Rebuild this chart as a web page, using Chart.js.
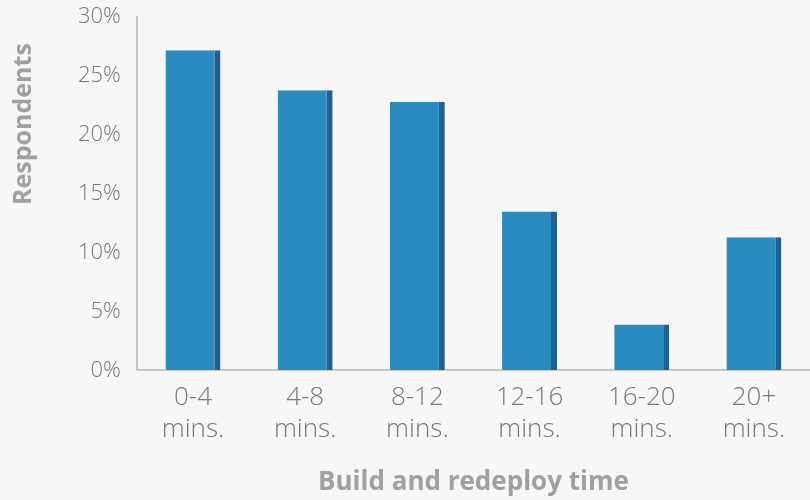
<!DOCTYPE html>
<html>
<head>
<meta charset="utf-8">
<script src="https://cdn.jsdelivr.net/npm/chart.js@4"></script>
<style>
  html, body { margin: 0; padding: 0; background: #f7f7f7; }
  #wrap { width: 810px; height: 500px; }
</style>
</head>
<body>
<div id="wrap"><canvas id="buildTime"></canvas></div>
<script>
const categories = [
  ["0-4", "mins."],
  ["4-8", "mins."],
  ["8-12", "mins."],
  ["12-16", "mins."],
  ["16-20", "mins."],
  ["20+", "mins."],
];
const respondents = [27.2, 23.8, 22.8, 13.5, 3.9, 11.3];
const yTicks = [0, 5, 10, 15, 20, 25, 30];

const ctx = document.getElementById("buildTime");

Chart.defaults.font.family = "Open Sans";

new Chart(ctx, {
  type: "bar",
  data: {
    labels: categories,
    datasets: [
      {
        label: "Respondents",
        data: respondents,
        backgroundColor: "#2a8bc0",
        borderColor: "#22608f",
        borderWidth: { top: 0, right: 6, bottom: 0, left: 0 },
        borderSkipped: false,
        barPercentage: 0.49,
        categoryPercentage: 1,
      },
    ],
  },
  options: {
    responsive: true,
    maintainAspectRatio: false,
    animation: false,
    layout: {
      padding: { top: 0, right: 0, left: 9, bottom: 2 },
    },
    plugins: {
      legend: { display: false },
      tooltip: { enabled: false },
    },
    scales: {
      x: {
        grid: { display: false, drawTicks: false },
        border: { color: "#c8c8c8", width: 2 },
        ticks: {
          color: "#777",
          font: { size: 26, weight: 300 },
          padding: 12,
          maxRotation: 0,
        },
        title: {
          display: true,
          text: "Build and redeploy time",
          color: "#a0a0a0",
          font: { size: 26, weight: "bold" },
          padding: { top: 10, bottom: 0 },
        },
      },
      y: {
        min: 0,
        max: 30,
        // invisible tick marks keep the labels away from the axis line
        grid: {
          drawOnChartArea: false,
          drawTicks: true,
          tickLength: 12,
          color: "rgba(0,0,0,0)",
        },
        border: { color: "#c8c8c8", width: 2 },
        afterBuildTicks: (axis) => {
          axis.ticks = yTicks.map((v) => ({ value: v }));
        },
        ticks: {
          color: "#777",
          font: { size: 22, weight: 300 },
          padding: 4,
          callback: (v) => v + "%",
        },
        title: {
          display: true,
          text: "Respondents    ",
          color: "#a0a0a0",
          font: { size: 25, weight: "bold" },
          align: "end",
          padding: { top: 0, bottom: 35 },
        },
      },
    },
  },
});
</script>
</body>
</html>
